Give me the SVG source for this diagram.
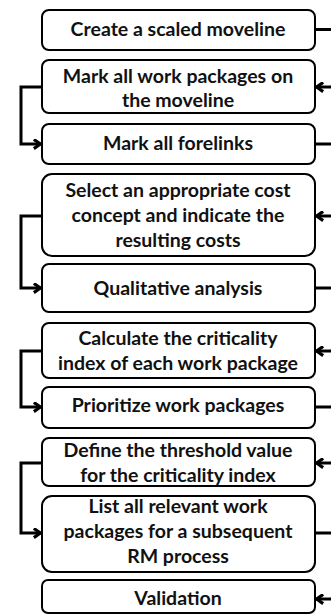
<svg xmlns="http://www.w3.org/2000/svg" width="331" height="615" viewBox="0 0 331 615">
  <style>
    .box { fill: #ffffff; stroke: #000000; stroke-width: 2; }
    .lbl { font-family: Lato, "Liberation Sans", sans-serif; font-weight: bold; font-size: 19.5px; fill: #111111; text-anchor: middle; }
    .wire { fill: none; stroke: #000000; stroke-width: 3; stroke-linejoin: miter; }
  </style>
  <defs>
    <marker id="head" viewBox="0 0 10 10" refX="9" refY="5" markerWidth="11" markerHeight="11" markerUnits="userSpaceOnUse" orient="auto">
      <polyline points="2.5,0.8 8.5,5 2.5,9.2" fill="none" stroke="#000" stroke-width="2.8"/>
    </marker>
  </defs>
  <rect width="331" height="615" fill="#ffffff"/>

  <g id="n1"><rect class="box" x="42" y="10" width="273" height="40" rx="7"/>
    <text class="lbl" x="178" y="36">Create a scaled moveline</text></g>
  <g id="n2"><rect class="box" x="42" y="60" width="273" height="53" rx="7"/>
    <text class="lbl" x="178" y="83">Mark all work packages on</text>
    <text class="lbl" x="178" y="107">the moveline</text></g>
  <g id="n3"><rect class="box" x="42" y="124" width="273" height="40" rx="7"/>
    <text class="lbl" x="178" y="150">Mark all forelinks</text></g>
  <g id="n4"><rect class="box" x="42" y="174" width="273" height="82" rx="10"/>
    <text class="lbl" x="178" y="197">Select an appropriate cost</text>
    <text class="lbl" x="178" y="222">concept and indicate the</text>
    <text class="lbl" x="178" y="247">resulting costs</text></g>
  <g id="n5"><rect class="box" x="42" y="264" width="273" height="48" rx="7"/>
    <text class="lbl" x="178" y="295">Qualitative analysis</text></g>
  <g id="n6"><rect class="box" x="42" y="323" width="273" height="55" rx="7"/>
    <text class="lbl" x="178" y="345">Calculate the criticality</text>
    <text class="lbl" x="178" y="370">index of each work package</text></g>
  <g id="n7"><rect class="box" x="42" y="387" width="273" height="41" rx="7"/>
    <text class="lbl" x="178" y="412">Prioritize work packages</text></g>
  <g id="n8"><rect class="box" x="42" y="438" width="273" height="48" rx="7"/>
    <text class="lbl" x="178" y="457">Define the threshold value</text>
    <text class="lbl" x="178" y="482">for the criticality index</text></g>
  <g id="n9"><rect class="box" x="42" y="496" width="273" height="76" rx="10"/>
    <text class="lbl" x="178" y="513">List all relevant work</text>
    <text class="lbl" x="178" y="538">packages for a subsequent</text>
    <text class="lbl" x="178" y="563">RM process</text></g>
  <g id="n10"><rect class="box" x="42" y="580" width="273" height="33" rx="6"/>
    <text class="lbl" x="178" y="605">Validation</text></g>

  <g id="connectors">
    <!-- left loops between paired steps -->
    <polyline class="wire" points="42,87 21,87 21,144 41,144" marker-end="url(#head)"/>
    <polyline class="wire" points="42,216 21,216 21,288 41,288" marker-end="url(#head)"/>
    <polyline class="wire" points="42,351 21,351 21,407 41,407" marker-end="url(#head)"/>
    <polyline class="wire" points="42,463 21,463 21,533 41,533" marker-end="url(#head)"/>
    <!-- outgoing stubs on the right -->
    <line class="wire" x1="315" y1="29.5" x2="331" y2="29.5"/>
    <line class="wire" x1="315" y1="144" x2="331" y2="144"/>
    <line class="wire" x1="315" y1="288" x2="331" y2="288"/>
    <line class="wire" x1="315" y1="407" x2="331" y2="407"/>
    <line class="wire" x1="315" y1="533" x2="331" y2="533"/>
    <!-- incoming arrows on the right -->
    <line class="wire" x1="331" y1="87" x2="316" y2="87" marker-end="url(#head)"/>
    <line class="wire" x1="331" y1="216" x2="316" y2="216" marker-end="url(#head)"/>
    <line class="wire" x1="331" y1="351" x2="316" y2="351" marker-end="url(#head)"/>
    <line class="wire" x1="331" y1="463" x2="316" y2="463" marker-end="url(#head)"/>
    <line class="wire" x1="331" y1="599" x2="316" y2="599" marker-end="url(#head)"/>
  </g>
</svg>
